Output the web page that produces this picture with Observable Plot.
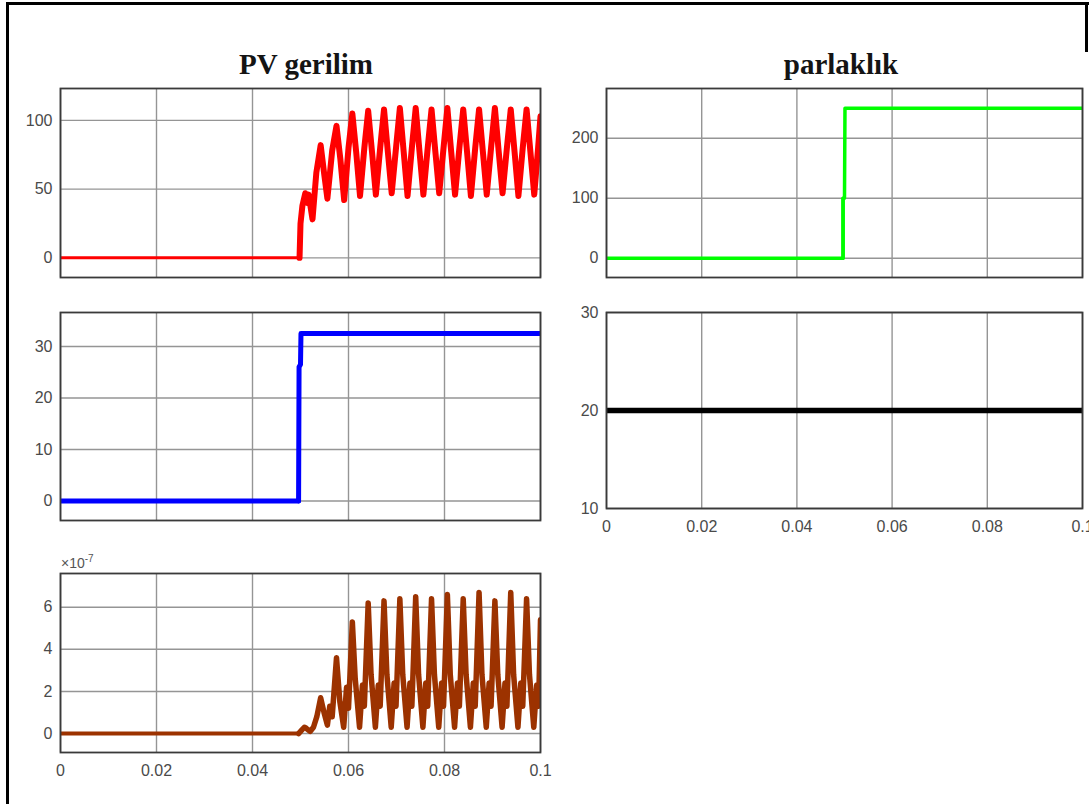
<!DOCTYPE html>
<html>
<head>
<meta charset="utf-8">
<script src="https://cdn.jsdelivr.net/npm/d3@7"></script>
<script src="https://cdn.jsdelivr.net/npm/@observablehq/plot@0.6"></script>
<style>
  body { margin: 0; background: #fff; }
  #page { position: relative; width: 1089px; height: 804px; overflow: hidden; background: #fff; }
  .panel { position: absolute; }
  .title { position: absolute; font-family: "Liberation Serif", "Times New Roman", serif; font-weight: bold;
           font-size: 29px; line-height: 29px; color: #141414; white-space: nowrap; transform: translateX(-50%); }
  .expo { position: absolute; font-family: "Liberation Sans", Arial, sans-serif; font-size: 14px; color: #555; white-space: nowrap; }
  .expo sup { font-size: 10px; vertical-align: 6px; }
  .rule { position: absolute; background: #000; }
</style>
</head>
<body>
<div id="page">
  <div class="rule" style="left:6px;top:2px;width:1083px;height:3px;"></div>
  <div class="rule" style="left:6px;top:2px;width:3px;height:802px;"></div>
  <div class="rule" style="left:1085px;top:2px;width:3px;height:50px;"></div>
  <div class="title" style="left:306px;top:50px;">PV gerilim</div>
  <div class="title" style="left:841px;top:50px;">parlaklık</div>
  <div class="expo" style="left:61px;top:553px;">×10<sup>-7</sup></div>
</div>
<script>
// Simulation time axis (s)
const timeTicks = [0, 0.02, 0.04, 0.06, 0.08, 0.1];

// PV voltage (V)
const pvVoltageT = [0, 0.0498, 0.0500, 0.0504, 0.0510, 0.0514, 0.0517, 0.0525, 0.0533, 0.0542, 0.0549, 0.0556, 0.0566, 0.0575, 0.0583, 0.0591,
  0.0600, 0.0608, 0.0616, 0.0624,
  0.0633, 0.0641, 0.0649, 0.0657,
  0.0666, 0.0674, 0.0682, 0.0690,
  0.0699, 0.0707, 0.0715, 0.0723,
  0.0732, 0.0740, 0.0748, 0.0756,
  0.0765, 0.0773, 0.0781, 0.0789,
  0.0798, 0.0806, 0.0814, 0.0822,
  0.0831, 0.0839, 0.0847, 0.0855,
  0.0864, 0.0872, 0.0880, 0.0888,
  0.0897, 0.0905, 0.0913, 0.0921,
  0.0930, 0.0938, 0.0946, 0.0954,
  0.0963, 0.0971, 0.0979, 0.0987,
  0.0995, 0.1000];
const pvVoltageV = [0, 0, 25, 38, 47, 40, 46, 28, 62, 82, 62, 43, 78, 96, 72, 42,
  80, 105, 77, 45,
  80, 107, 77, 46,
  80, 108, 77, 47,
  80, 109, 77, 45,
  80, 109, 77, 46,
  80, 108, 77, 47,
  80, 109, 77, 46,
  80, 108, 77, 45,
  80, 108, 77, 46,
  80, 109, 77, 47,
  80, 108, 77, 45,
  80, 108, 77, 46,
  80, 103];
const pvVoltageTicks = [0, 50, 100];

// PV current (A)
const pvCurrentT = [0, 0.0496, 0.0497, 0.0500, 0.0501, 0.1];
const pvCurrentV = [0, 0, 26, 26.5, 32.5, 32.5];
const pvCurrentTicks = [0, 10, 20, 30];

// Third signal, in units of 1e-7
const smallSignalT = [0, 0.0496, 0.0502, 0.0508, 0.0512, 0.0520, 0.0527, 0.0534, 0.0542, 0.0549, 0.0556, 0.0561, 0.0566, 0.0575, 0.0582, 0.0590,
  0.0596, 0.0600, 0.0608, 0.0614, 0.0623,
  0.0629, 0.0633, 0.0641, 0.0647, 0.0656,
  0.0662, 0.0666, 0.0674, 0.0680, 0.0689,
  0.0695, 0.0699, 0.0707, 0.0713, 0.0722,
  0.0728, 0.0732, 0.0740, 0.0746, 0.0755,
  0.0761, 0.0765, 0.0773, 0.0779, 0.0788,
  0.0794, 0.0798, 0.0806, 0.0812, 0.0821,
  0.0827, 0.0831, 0.0839, 0.0845, 0.0854,
  0.0860, 0.0864, 0.0872, 0.0878, 0.0887,
  0.0893, 0.0897, 0.0905, 0.0911, 0.0920,
  0.0926, 0.0930, 0.0938, 0.0944, 0.0953,
  0.0959, 0.0963, 0.0971, 0.0977, 0.0986,
  0.0992, 0.0996, 0.1000];
const smallSignalV = [0, 0, 0.15, 0.3, 0.25, 0.1, 0.3, 0.8, 1.7, 1.0, 0.4, 1.3, 0.8, 3.6, 1.5, 0.3,
  2.2, 1.2, 5.3, 2.6, 0.3,
  2.3, 1.3, 6.2, 2.8, 0.3,
  2.3, 1.3, 6.3, 2.8, 0.3,
  2.4, 1.3, 6.4, 2.8, 0.3,
  2.4, 1.3, 6.5, 2.8, 0.3,
  2.4, 1.3, 6.4, 2.8, 0.3,
  2.4, 1.3, 6.6, 2.8, 0.3,
  2.4, 1.3, 6.4, 2.8, 0.3,
  2.4, 1.3, 6.7, 2.8, 0.3,
  2.4, 1.3, 6.3, 2.8, 0.3,
  2.4, 1.3, 6.7, 2.8, 0.3,
  2.4, 1.3, 6.4, 2.8, 0.3,
  2.3, 1.3, 5.4];
const smallSignalTicks = [0, 2, 4, 6];

// Irradiance, parlaklık (W/m²)
const irradianceT = [0, 0.0497, 0.0497, 0.0500, 0.0501, 0.1];
const irradianceV = [0, 0, 100, 100, 250, 250];
const irradianceTicks = [0, 100, 200];

// Cell temperature (°C)
const temperatureT = [0, 0.1];
const temperatureV = [20, 20];
const temperatureTicks = [10, 20, 30];

const page = document.getElementById("page");
const zip = (ts, vs) => ts.map((t, i) => ({t, v: vs[i]}));

function panel({ts, vs, color, flatWidth, activeWidth, switchT, yDomain, yTicks, frameLeft, frameTop, frameW, frameH, xLabels}) {
  const mL = 60, mR = 12, mT = 10, mB = xLabels ? 30 : 10;
  const data = zip(ts, vs);
  const grid = {stroke: "#959595", strokeOpacity: 1, strokeWidth: 1.4};
  const marks = [
    Plot.gridX(timeTicks, grid),
    Plot.gridY(yTicks, grid),
    Plot.line(data.filter(d => d.t <= switchT), {x: "t", y: "v", stroke: color, strokeWidth: flatWidth, clip: true, strokeLinejoin: "round"}),
    Plot.line(data.filter(d => d.t >= switchT), {x: "t", y: "v", stroke: color, strokeWidth: activeWidth, clip: true, strokeLinejoin: "round"}),
    Plot.frame({stroke: "#3a3a3a", strokeWidth: 1.8}),
    Plot.axisY(yTicks, {label: null, tickSize: 0, tickPadding: 8, fontSize: 16, fill: "#4a4a4a", tickFormat: d => String(d)})
  ];
  if (xLabels) {
    marks.push(Plot.axisX(timeTicks, {label: null, tickSize: 0, tickPadding: 12, fontSize: 16, fill: "#4a4a4a", tickFormat: d => String(d)}));
  }
  const svg = Plot.plot({
    width: mL + frameW + mR,
    height: mT + frameH + mB,
    marginLeft: mL, marginRight: mR, marginTop: mT, marginBottom: mB,
    x: {domain: [0, 0.1], axis: null},
    y: {domain: yDomain, axis: null},
    style: {background: "transparent", fontFamily: "'Liberation Sans', Arial, sans-serif", overflow: "visible"},
    marks
  });
  svg.classList.add("panel");
  svg.style.left = (frameLeft - mL) + "px";
  svg.style.top = (frameTop - mT) + "px";
  page.appendChild(svg);
}

panel({ts: pvVoltageT, vs: pvVoltageV, color: "#ff0000", flatWidth: 3, activeWidth: 6, switchT: 0.0498,
  yDomain: [-14.3, 123.2], yTicks: pvVoltageTicks, frameLeft: 60, frameTop: 88, frameW: 480, frameH: 189, xLabels: false});

panel({ts: pvCurrentT, vs: pvCurrentV, color: "#0000ff", flatWidth: 5, activeWidth: 5, switchT: 0.0496,
  yDomain: [-3.8, 36.6], yTicks: pvCurrentTicks, frameLeft: 60, frameTop: 312, frameW: 480, frameH: 208, xLabels: false});

panel({ts: smallSignalT, vs: smallSignalV, color: "#9c3200", flatWidth: 4, activeWidth: 5.5, switchT: 0.0496,
  yDomain: [-0.9, 7.6], yTicks: smallSignalTicks, frameLeft: 60, frameTop: 573, frameW: 480, frameH: 179, xLabels: true});

panel({ts: irradianceT, vs: irradianceV, color: "#00ff00", flatWidth: 3.5, activeWidth: 3.5, switchT: 0.0497,
  yDomain: [-32, 283], yTicks: irradianceTicks, frameLeft: 606, frameTop: 88, frameW: 476, frameH: 189, xLabels: false});

panel({ts: temperatureT, vs: temperatureV, color: "#000000", flatWidth: 5.5, activeWidth: 5.5, switchT: 0.1,
  yDomain: [10, 30], yTicks: temperatureTicks, frameLeft: 606, frameTop: 312, frameW: 476, frameH: 196, xLabels: true});
</script>
</body>
</html>
